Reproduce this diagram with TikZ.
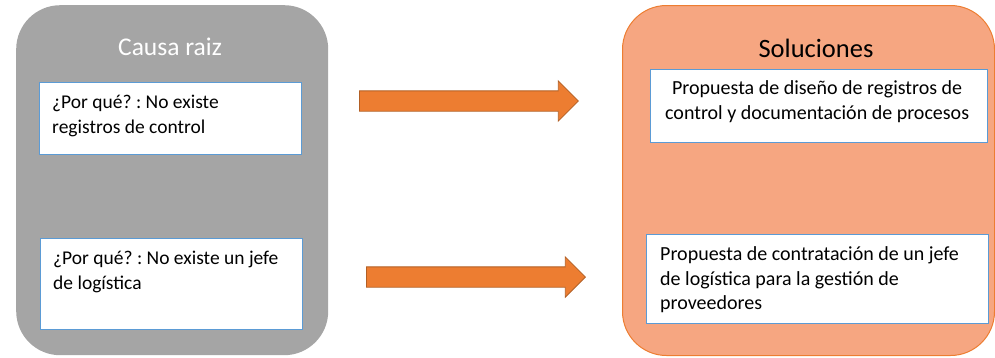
\documentclass[tikz,border=0pt]{standalone}
\usepackage{fontspec}
\setmainfont{Carlito}
\frenchspacing
\usetikzlibrary{shapes.arrows}
\definecolor{panelgray}{HTML}{A5A5A5}
\definecolor{panelorange}{HTML}{F6A681}
\definecolor{orangeline}{HTML}{ED7D31}
\definecolor{arrowfill}{HTML}{ED7D31}
\definecolor{arrowline}{HTML}{B25F24}
\definecolor{boxline}{HTML}{5B9BD5}
\tikzset{
  panel/.style={rounded corners=44pt, anchor=north west, inner sep=0pt},
  card/.style={draw=boxline, line width=1.3pt, fill=white, anchor=north west, inner sep=0pt},
  cardtext/.style={font=\fontsize{19.5}{24.5}\selectfont, inner sep=0pt, anchor=north west, align=left},
  solntext/.style={font=\fontsize{20}{24.5}\selectfont, inner sep=0pt, anchor=north west, align=left},
  heading/.style={inner sep=0pt, anchor=base},
  bigarrow/.style={single arrow, draw=arrowline, fill=arrowfill, line width=0.8pt,
    minimum height=219pt, inner xsep=0pt, inner ysep=9.75pt,
    single arrow head extend=10pt, single arrow head indent=0pt,
    anchor=west, shape border rotate=0}
}
\begin{document}
\begin{tikzpicture}[x=1pt,y=-1pt]
\useasboundingbox (0,0) rectangle (995,357);
% panels
\node[panel, fill=panelgray, minimum width=312pt, minimum height=350pt] (causa) at (16,5) {};
\node[panel, fill=panelorange, draw=orangeline, line width=1pt, minimum width=372pt, minimum height=350pt] (sol) at (622,5) {};
\node[heading, text=white, font=\fontsize{25.5}{30}\selectfont] (causaT) at (170,55) {Causa raiz};
\node[heading, text=black, font=\fontsize{26.5}{30}\selectfont] (solT) at (816,57) {Soluciones};
% cause cards
\node[card, minimum width=262pt, minimum height=72pt] (c1) at (39,82) {};
\node[cardtext] (c1t) at ([xshift=13pt,yshift=-13pt]c1.north west) {¿Por qué? : No existe\\registros de control};
\node[card, minimum width=262pt, minimum height=91pt] (c2) at (40,238) {};
\node[cardtext] (c2t) at ([xshift=13pt,yshift=-13pt]c2.north west) {¿Por qué? : No existe un jefe\\de logística};
% solution cards
\node[card, minimum width=337pt, minimum height=73pt] (s1) at (650,69) {};
\node[solntext, align=center, anchor=north] (s1t) at ([xshift=-2pt,yshift=-11.5pt]s1.north) {Propuesta de diseño de registros de\\control y documentación de procesos};
\node[card, minimum width=342pt, minimum height=89pt] (s2) at (646,234) {};
\node[solntext] (s2t) at ([xshift=14pt,yshift=-12.5pt]s2.north west) {Propuesta de contratación de un jefe\\de logística para la gestión de\\proveedores};
% block arrows between the panels
\node[bigarrow] (a1) at (359,101) {};
\node[bigarrow] (a2) at (366,277) {};
\end{tikzpicture}
\end{document}
